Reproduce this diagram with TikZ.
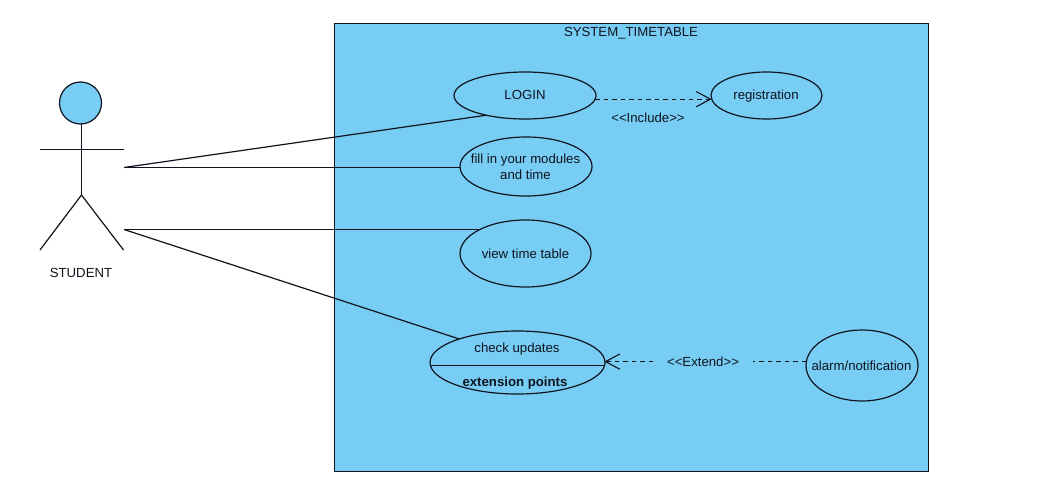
\documentclass[tikz,border=0pt]{standalone}
\usepackage{fontspec}
\setmainfont{Liberation Sans}
\usetikzlibrary{shapes.geometric,arrows.meta}
\definecolor{ucblue}{RGB}{120,205,245}
\definecolor{ink}{RGB}{15,20,30}
\tikzset{
  every node/.style={font=\fontsize{13.2}{16.5}\selectfont,text=ink},
  usecase/.style={ellipse,draw=ink,fill=ucblue,line width=1.2pt,inner sep=0pt,outer sep=0pt},
  line/.style={draw=ink,line width=1.2pt},
  dep/.style={line,dash pattern=on 4.5pt off 4pt},
  barb/.style={-{Straight Barb[length=14pt,width=15pt,line width=1.1pt,round,sep=0pt]}},
  caption/.style={inner sep=0pt,outer sep=0pt,align=center},
}
\begin{document}
\begin{tikzpicture}[x=1pt,y=-1pt]
\useasboundingbox (0,0) rectangle (1051,487);
\fill[white] (0,0) rectangle (1051,487);
\node[draw=ink,fill=ucblue,line width=1.2pt,minimum width=594pt,minimum height=448pt,inner sep=0pt,outer sep=0pt] (system) at (631.5,247.5) {};
\node[caption] (systitle) at (631,33.5) {SYSTEM\_TIMETABLE};

% actor
\node[circle,draw=ink,fill=ucblue,line width=1.2pt,minimum size=42pt,inner sep=0pt,outer sep=0pt] (head) at (80.5,103) {};
\coordinate (hip) at (81.5,195);
\coordinate (armL) at (40,149.5);
\coordinate (armR) at (123.5,149.5);
\coordinate (legL) at (40,250);
\coordinate (legR) at (123.5,250);
\draw[line] (head.south -| hip) -- (hip);
\draw[line] (armL) -- (armR);
\draw[line] (legL) -- (hip) -- (legR);
\node[caption] (student) at (81,272.5) {STUDENT};
\coordinate (a1) at (124,167.5);
\coordinate (a2) at (124,229.5);

% use cases
\node[usecase,minimum width=142pt,minimum height=47pt] (login) at (525,95.5) {};
\node[caption] (logintext) at (525,94.5) {LOGIN};
\node[usecase,minimum width=111pt,minimum height=47pt] (reg) at (766.5,95.5) {};
\node[caption] (regtext) at (766,96.5) {registration};
\node[usecase,minimum width=132pt,minimum height=59pt] (fill) at (526,166.5) {};
\node[caption] (filltext) at (525.5,167) {fill in your modules\\and time};
\node[usecase,minimum width=131pt,minimum height=67pt] (view) at (525.5,253.5) {};
\node[caption] (viewtext) at (525.5,254) {view time table};
\node[usecase,minimum width=175pt,minimum height=63pt] (check) at (517.5,362.5) {};
\node[caption] (checktext) at (517,349) {check updates};
\node[caption,font=\fontsize{13.2}{16.5}\selectfont\bfseries] (exttext) at (515,383) {extension points};
\draw[line] (check.182.5) -- (check.182.5 -| check.east);
\node[usecase,minimum width=112pt,minimum height=71pt] (alarm) at (862,365.5) {};
\node[caption] (alarmtext) at (861.5,365.5) {alarm/notification};

% associations
\draw[line] (a1) -- (login.207.7);
\draw[line] (a1) -- (a1 -| fill.west);
\draw[line] (a2) -- (a2 -| view.151.3);
\draw[line] (a2) -- (check.158.1);

% dependencies
\draw[dep,barb] (login.-3) -- (login.-3 -| reg.west);
\node[caption] (inc) at (648,117.5) {<{}<Include>{}>};
\node[caption,minimum width=100pt] (ext) at (703,362) {<{}<Extend>{}>};
\draw[dep] (alarm.176.4) -- (alarm.176.4 -| ext.east);
\draw[dep,barb] (ext.west |- alarm.176.4) -- (alarm.176.4 -| check.east);
\end{tikzpicture}
\end{document}
